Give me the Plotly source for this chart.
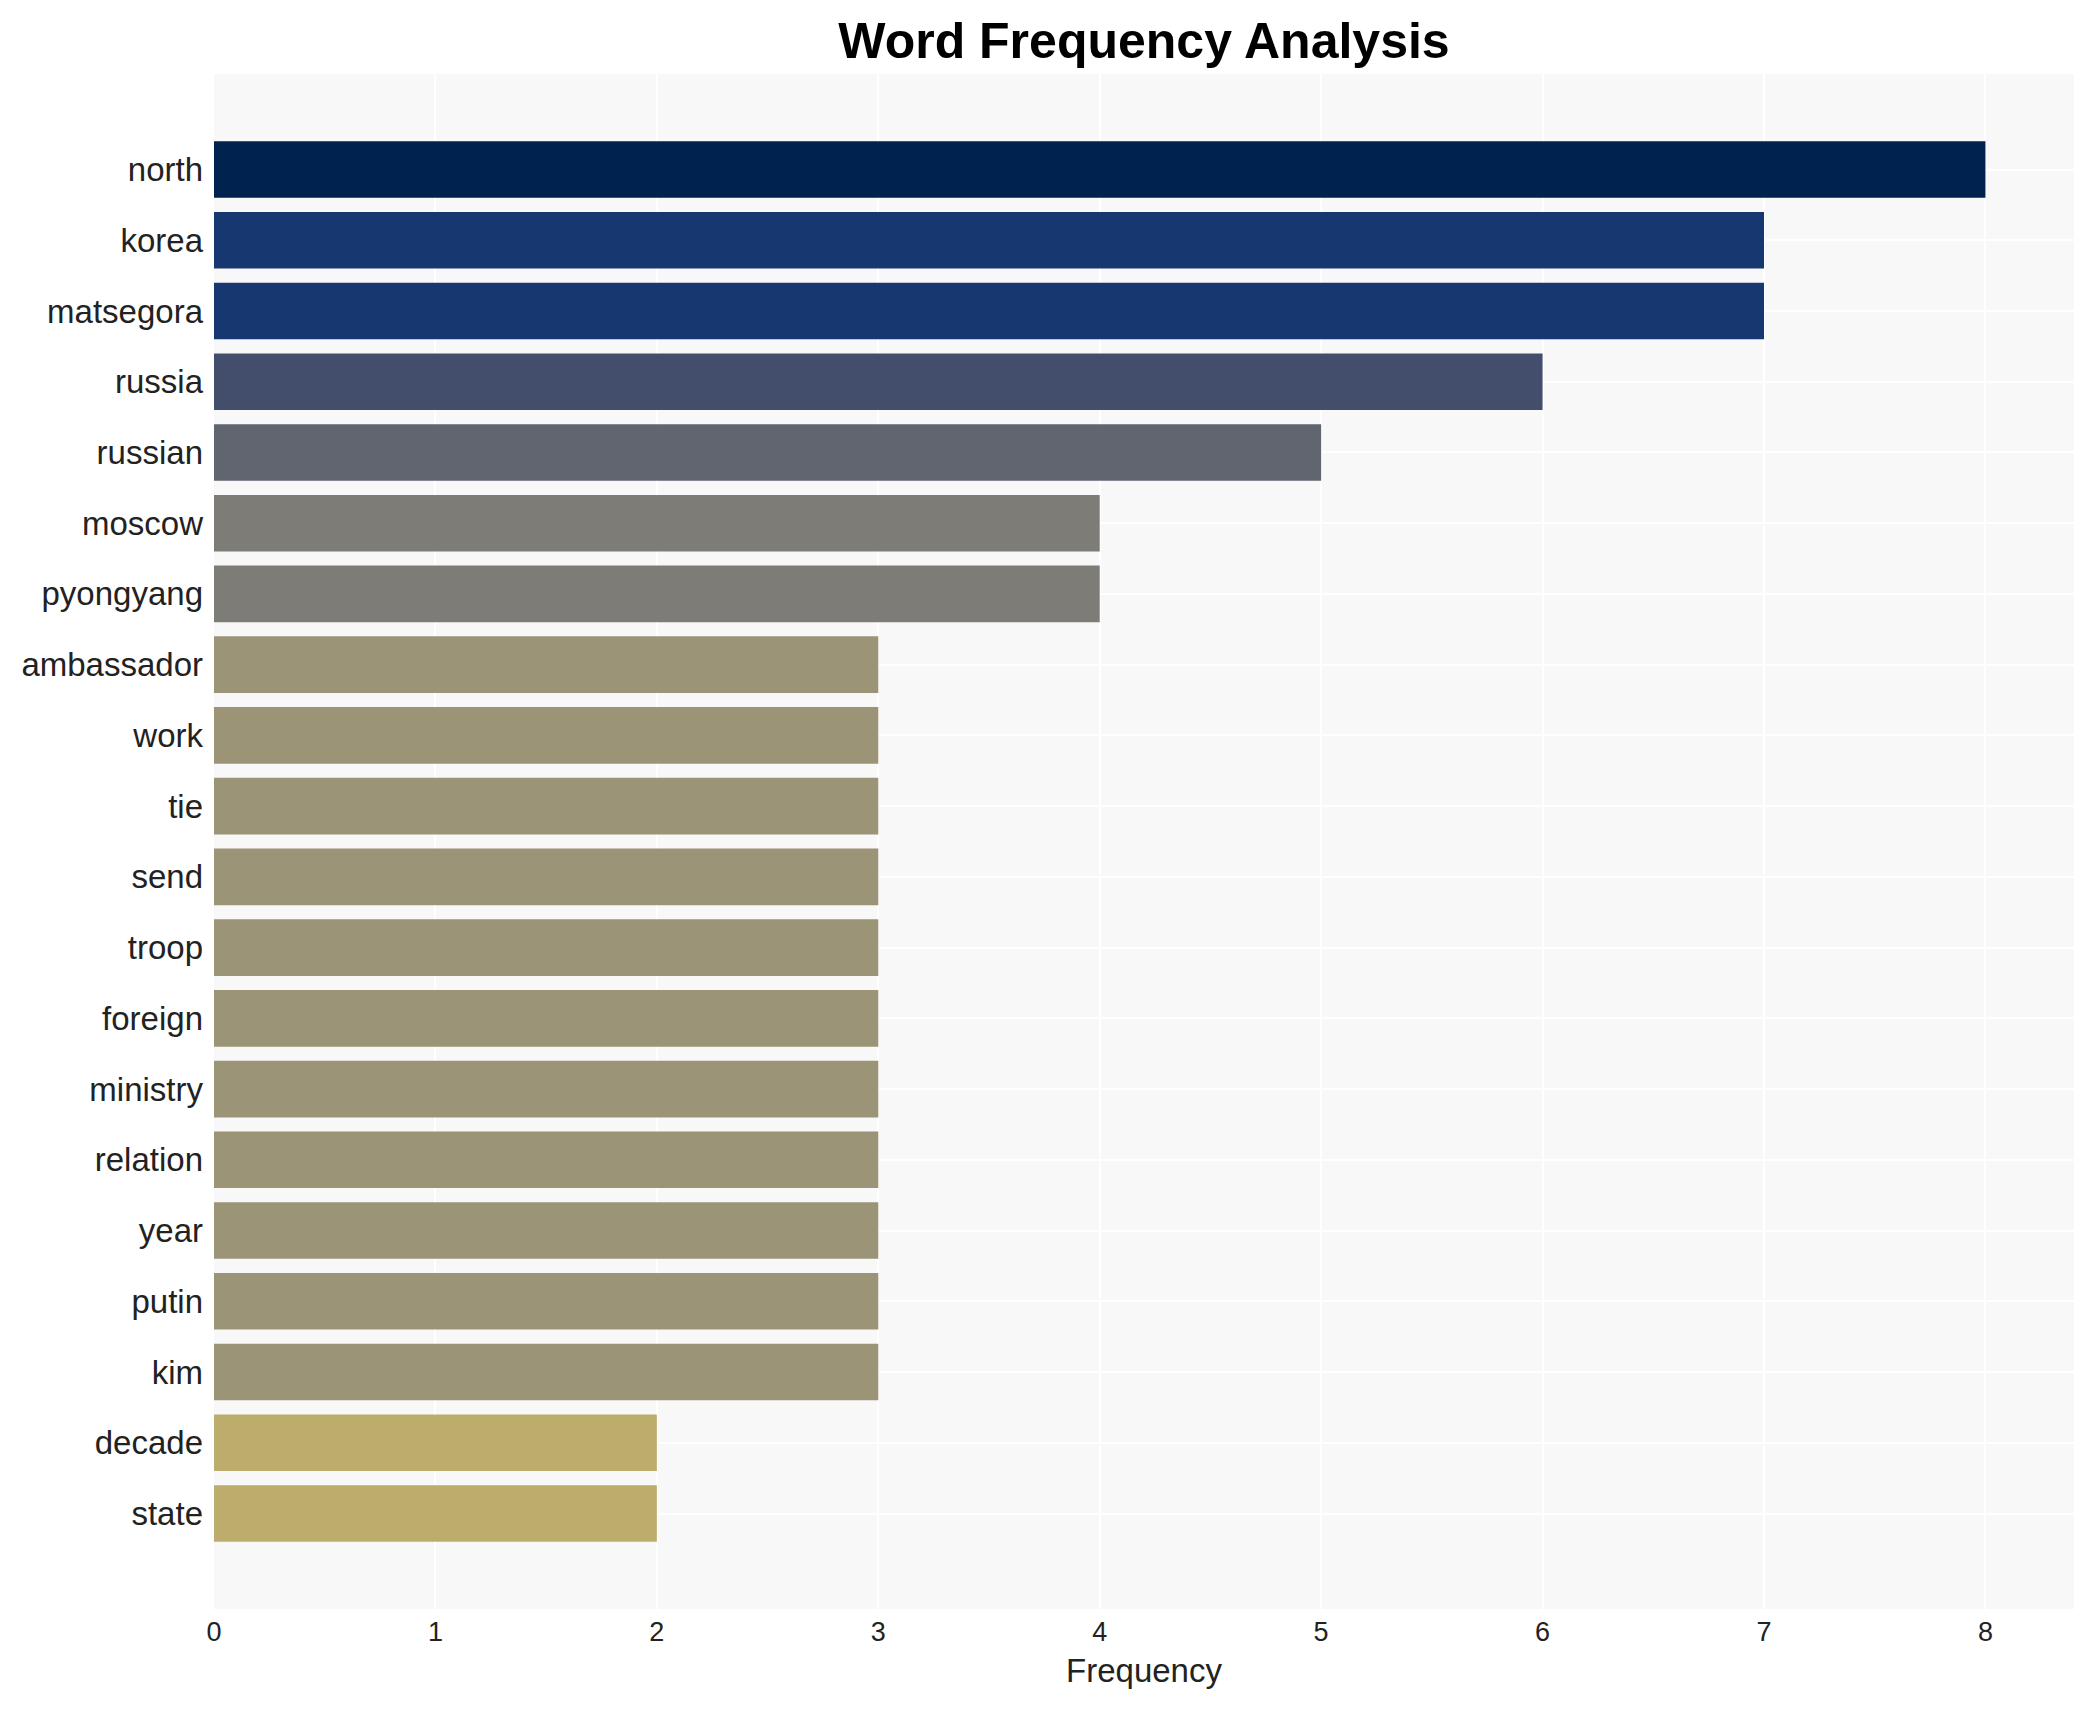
import plotly.graph_objects as go

words = ["north", "korea", "matsegora", "russia", "russian", "moscow", "pyongyang",
         "ambassador", "work", "tie", "send", "troop", "foreign", "ministry",
         "relation", "year", "putin", "kim", "decade", "state"]
freqs = [8, 7, 7, 6, 5, 4, 4, 3, 3, 3, 3, 3, 3, 3, 3, 3, 3, 3, 2, 2]
x_ticks = [0, 1, 2, 3, 4, 5, 6, 7, 8]

fig = go.Figure(go.Bar(
    x=freqs,
    y=words,
    orientation="h",
    marker=dict(color=freqs, colorscale="Cividis_r", cmin=0, cmax=8, line=dict(width=0)),
    hoverinfo="x+y",
))

n = len(words)
W, H = 2077, 1694
fig.update_layout(
    width=W,
    height=H,
    margin=dict(l=206, r=11, t=66, b=93),
    paper_bgcolor="white",
    plot_bgcolor="#f8f8f8",
    bargap=0.2,
    font=dict(family="Arial, Liberation Sans, sans-serif", color="#222222"),
    title=dict(
        text="<b>Word Frequency Analysis</b>",
        x=0.5, xref="paper", xanchor="center",
        y=1 - 32 / H, yref="container", yanchor="middle",
        font=dict(size=50, color="black", family="Arial, Liberation Sans, sans-serif"),
    ),
    xaxis=dict(
        range=[0, 8.4],
        tickvals=x_ticks,
        tickfont=dict(size=27),
        ticklabelstandoff=4,
        title=dict(text="Frequency", font=dict(size=33), standoff=12),
        showgrid=True, gridcolor="white", gridwidth=2,
        zeroline=False, showline=False, ticks="",
    ),
    yaxis=dict(
        categoryorder="array", categoryarray=words,
        range=[n - 1 + 1.35, -1.35],
        tickfont=dict(size=33),
        showgrid=True, gridcolor="white", gridwidth=2,
        zeroline=False, showline=False, ticks="", ticklabelstandoff=10,
    ),
    showlegend=False,
)

fig.write_html("out.html")
